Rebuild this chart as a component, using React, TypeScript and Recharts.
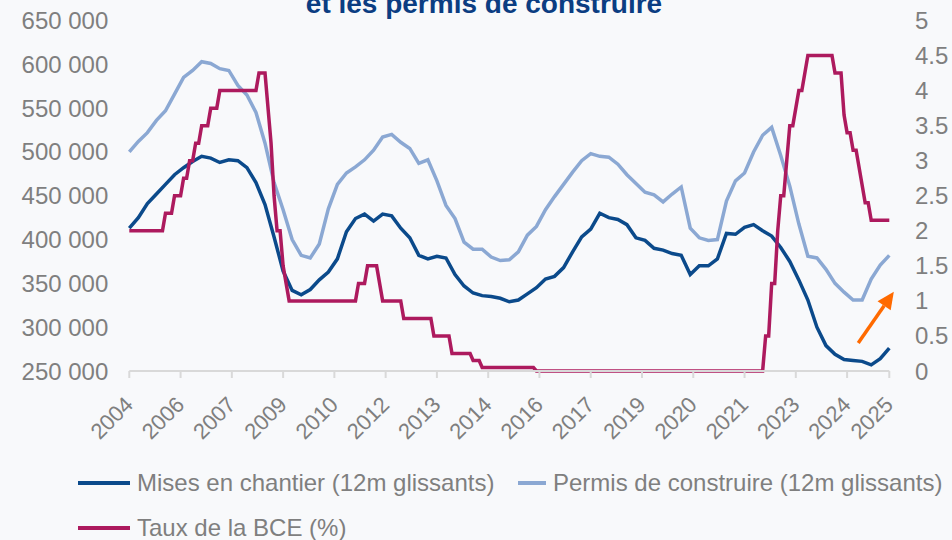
import React from "react";
import { LineChart, Line, XAxis, YAxis, ReferenceLine } from "recharts";

const FONT = '"Liberation Sans", Arial, sans-serif';
const DARK_BLUE = "#0b4a8b";
const LIGHT_BLUE = "#8ba8d3";
const PINK = "#ad1a5e";
const ORANGE = "#ff6a00";
const GREY = "#7f7f7f";
const BG = "#f8f9fb";

// x = months counted from Dec 2004; housing series read once a quarter
const QUARTER_STEP = 3;
const LAST_MONTH = 252;

// Mises en chantier, 12m rolling, thousands
const MISES_K = [
  413, 425, 441, 452, 463, 474, 482, 489, 495, 493,
  488, 491, 490, 482, 465, 440, 403, 364, 342, 337,
  343, 354, 363, 378, 409, 424, 429, 421, 429, 427,
  413, 402, 382, 378, 381, 379, 360, 347, 339, 336,
  335, 333, 329, 331, 338, 345, 355, 358, 368, 386,
  403, 412, 430, 425, 423, 417, 402, 399, 390, 388,
  384, 382, 360, 370, 370, 378, 407, 406, 414, 417,
  410, 404, 391, 375, 354, 331, 300, 279, 269, 263,
  262, 261, 257, 264, 276,
];

// Permis de construire, 12m rolling, thousands
const PERMIS_K = [
  500, 512, 522, 536, 547, 566, 585, 593, 603, 601,
  595, 593, 576, 565, 545, 510, 465, 434, 400, 382,
  379, 395, 435, 463, 476, 483, 491, 502, 517, 520,
  511, 504, 487, 491, 467, 439, 424, 397, 389, 389,
  380, 376, 377, 386, 405, 415, 434, 449, 463, 477,
  490, 498, 495, 494, 486, 474, 464, 454, 451, 443,
  452, 460, 413, 402, 399, 400, 444, 467, 476, 500,
  519, 528, 496, 461, 418, 381, 379, 366, 350, 340,
  331, 331, 355, 371, 382,
];

// ECB rate (%), monthly values at each change point
const ECB_MONTHS = [
  0, 11, 12, 14, 15, 17, 18, 19, 20, 21, 22, 23, 24, 26, 27, 29, 30, 42, 43, 45,
  46, 47, 48, 49, 50, 51, 52, 53, 75, 76, 78, 79, 82, 83, 84, 90, 91, 100, 101, 106,
  107, 113, 114, 116, 117, 134, 135, 210, 211, 212, 213, 214, 215, 216, 217, 218, 219, 220, 221, 222,
  223, 224, 225, 233, 234, 236, 237, 238, 239, 240, 241, 242, 243, 244, 245, 246, 252,
];
const ECB_RATES = [
  2, 2, 2.25, 2.25, 2.5, 2.5, 2.75, 2.75, 3, 3, 3.25, 3.25, 3.5, 3.5, 3.75, 3.75, 4, 4, 4.25, 4.25,
  3.75, 3.25, 2.5, 2, 2, 1.5, 1.25, 1, 1, 1.25, 1.25, 1.5, 1.5, 1.25, 1, 1, 0.75, 0.75, 0.5, 0.5,
  0.25, 0.25, 0.15, 0.15, 0.05, 0.05, 0, 0, 0.5, 0.5, 1.25, 1.25, 2, 2.5, 2.5, 3, 3.5, 3.5, 3.75, 4,
  4, 4.25, 4.5, 4.5, 4.25, 4.25, 3.65, 3.4, 3.4, 3.15, 3.15, 2.9, 2.65, 2.4, 2.4, 2.15, 2.15,
];

const X_LABELS = [
  "2004", "2006", "2007", "2009", "2010", "2012", "2013", "2014",
  "2016", "2017", "2019", "2020", "2021", "2023", "2024", "2025",
];
const X_TICK_STEP = 17;

const LEFT_TICKS = [250000, 300000, 350000, 400000, 450000, 500000, 550000, 600000, 650000];
const RIGHT_TICKS = [0, 0.5, 1, 1.5, 2, 2.5, 3, 3.5, 4, 4.5, 5];

// orange arrow, in (month, right-axis) units
const ARROW_FROM = { x: 241.7, y: 0.4 };
const ARROW_TO = { x: 253.5, y: 1.13 };

const misesData = MISES_K.map((v, i) => ({ m: i * QUARTER_STEP, v: v * 1000 }));
const permisData = PERMIS_K.map((v, i) => ({ m: i * QUARTER_STEP, v: v * 1000 }));
const ecbData = ECB_MONTHS.map((m, i) => ({ m, r: ECB_RATES[i] }));
const xTicks = X_LABELS.map((_, i) => (i === X_LABELS.length - 1 ? LAST_MONTH : i * X_TICK_STEP));

const XTick = ({ x, y, payload }: any) => {
  const idx = xTicks.indexOf(payload.value);
  return (
    <g transform={`translate(${x + 5},${y + 28})`}>
      <text textAnchor="end" transform="rotate(-45)" fill={GREY} fontSize={22} fontFamily={FONT}>
        {X_LABELS[idx]}
      </text>
    </g>
  );
};

const ArrowShape = (props: any) => {
  const { x1, y1, x2, y2 } = props;
  const ang = Math.atan2(y2 - y1, x2 - x1);
  const len = 17;
  const half = 8;
  const bx = x2 - len * Math.cos(ang);
  const by = y2 - len * Math.sin(ang);
  const nx = -Math.sin(ang) * half;
  const ny = Math.cos(ang) * half;
  return (
    <g>
      <line x1={x1} y1={y1} x2={bx} y2={by} stroke={ORANGE} strokeWidth={3.5} />
      <polygon points={`${x2},${y2} ${bx + nx},${by + ny} ${bx - nx},${by - ny}`} fill={ORANGE} />
    </g>
  );
};

const legendItems = [
  { label: "Mises en chantier (12m glissants)", color: DARK_BLUE, left: 78, top: 483, w: 52 },
  { label: "Permis de construire (12m glissants)", color: LIGHT_BLUE, left: 518, top: 483, w: 28 },
  { label: "Taux de la BCE (%)", color: PINK, left: 78, top: 528, w: 52 },
];

export default function App() {
  return (
    <div
      style={{
        position: "absolute",
        top: 0,
        left: 0,
        width: 952,
        height: 540,
        background: BG,
        overflow: "hidden",
        fontFamily: FONT,
      }}
    >
      <svg width={952} height={30} style={{ position: "absolute", top: 0, left: 0 }}>
        <text x={484} y={12.5} textAnchor="middle" fill="#0b3d82" fontSize={28} fontWeight="bold" fontFamily={FONT}>
          et les permis de construire
        </text>
      </svg>

      <div style={{ position: "absolute", top: 0, left: 0 }}>
        <LineChart width={952} height={470} margin={{ top: 20.5, right: 12.7, bottom: 30, left: 29.3 }}>
          <XAxis
            dataKey="m"
            type="number"
            domain={[0, LAST_MONTH]}
            ticks={xTicks}
            interval={0}
            height={69}
            tickSize={7}
            tickMargin={0}
            axisLine={{ stroke: "#d9d9d9", strokeWidth: 2 }}
            tickLine={{ stroke: "#d9d9d9", strokeWidth: 2 }}
            tick={<XTick />}
          />
          <YAxis
            yAxisId="left"
            orientation="left"
            domain={[250000, 650000]}
            ticks={LEFT_TICKS}
            width={100}
            axisLine={false}
            tickLine={false}
            tickSize={0}
            tickMargin={21}
            tick={{ fill: GREY, fontSize: 24, fontFamily: FONT }}
            tickFormatter={(v: number) => `${v / 1000} 000`}
          />
          <YAxis
            yAxisId="right"
            orientation="right"
            domain={[0, 5]}
            ticks={RIGHT_TICKS}
            width={50}
            axisLine={false}
            tickLine={false}
            tickSize={0}
            tickMargin={25.7}
            tick={{ fill: GREY, fontSize: 24, fontFamily: FONT }}
            tickFormatter={(v: number) => String(v)}
          />
          <Line
            yAxisId="left"
            data={misesData}
            dataKey="v"
            type="linear"
            stroke={DARK_BLUE}
            strokeWidth={3.5}
            dot={false}
            isAnimationActive={false}
          />
          <Line
            yAxisId="left"
            data={permisData}
            dataKey="v"
            type="linear"
            stroke={LIGHT_BLUE}
            strokeWidth={3.5}
            dot={false}
            isAnimationActive={false}
          />
          <Line
            yAxisId="right"
            data={ecbData}
            dataKey="r"
            type="linear"
            stroke={PINK}
            strokeWidth={3.5}
            dot={false}
            isAnimationActive={false}
          />
          <ReferenceLine
            yAxisId="right"
            segment={[ARROW_FROM, ARROW_TO]}
            ifOverflow="visible"
            shape={ArrowShape}
          />
        </LineChart>
      </div>

      {legendItems.map((it) => (
        <div key={it.label}>
          <div
            style={{
              position: "absolute",
              left: it.left,
              top: it.top - 2,
              width: it.w,
              height: 4,
              background: it.color,
            }}
          />
          <div
            style={{
              position: "absolute",
              left: it.left + it.w + 7,
              top: it.top - 14,
              lineHeight: "28px",
              fontSize: 24,
              color: GREY,
              whiteSpace: "nowrap",
            }}
          >
            {it.label}
          </div>
        </div>
      ))}
    </div>
  );
}
